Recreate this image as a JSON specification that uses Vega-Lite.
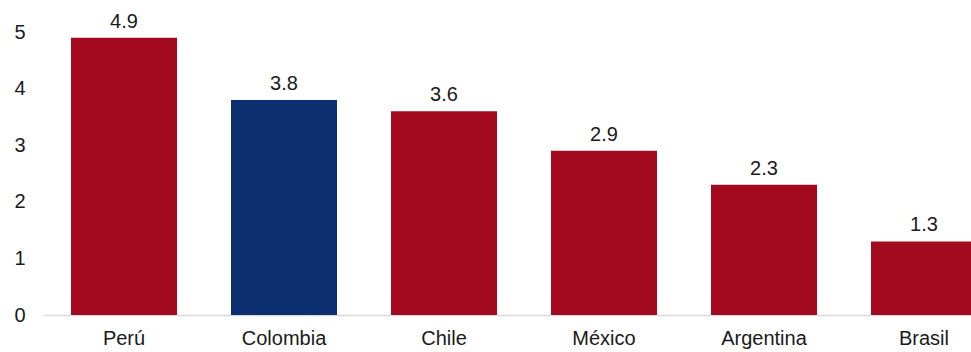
{
  "$schema": "https://vega.github.io/schema/vega-lite/v6.json",
  "width": 927,
  "height": 283,
  "autosize": {"type": "none"},
  "padding": {"left": 44, "top": 32, "right": 0, "bottom": 37},
  "background": "white",
  "config": {"view": {"stroke": null}, "font": "Liberation Sans"},
  "data": {"values": [
    {"pais": "Perú", "valor": 4.9, "grupo": "otro"},
    {"pais": "Colombia", "valor": 3.8, "grupo": "col"},
    {"pais": "Chile", "valor": 3.6, "grupo": "otro"},
    {"pais": "México", "valor": 2.9, "grupo": "otro"},
    {"pais": "Argentina", "valor": 2.3, "grupo": "otro"},
    {"pais": "Brasil", "valor": 1.3, "grupo": "otro"}
  ]},
  "encoding": {
    "x": {"field": "pais", "type": "nominal", "sort": null,
      "scale": {"range": [0, 960], "paddingInner": 0.3375, "paddingOuter": 0.16875},
      "axis": {"title": null, "labelAngle": 0, "labelFontSize": 20, "labelColor": "#1a1a1a", "labelPadding": 13, "ticks": false, "domainColor": "#d9d9d9", "domainWidth": 1.5, "labelFont": "Liberation Sans"}},
    "y": {"field": "valor", "type": "quantitative",
      "scale": {"domain": [0, 5], "nice": false},
      "axis": {"title": null, "values": [0, 1, 2, 3, 4, 5], "grid": false, "domain": false, "ticks": false, "labelFontSize": 20, "labelColor": "#1a1a1a", "labelPadding": 19, "labelFont": "Liberation Sans"}}
  },
  "layer": [
    {"mark": {"type": "bar", "clip": false},
     "encoding": {"color": {"field": "grupo", "type": "nominal", "scale": {"domain": ["otro", "col"], "range": ["#A3091F", "#0C2F70"]}, "legend": null}}},
    {"mark": {"type": "text", "baseline": "alphabetic", "dy": -10, "fontSize": 20, "color": "#1a1a1a", "font": "Liberation Sans"},
     "encoding": {"text": {"field": "valor", "type": "quantitative", "format": ".1f"}}}
  ]
}
